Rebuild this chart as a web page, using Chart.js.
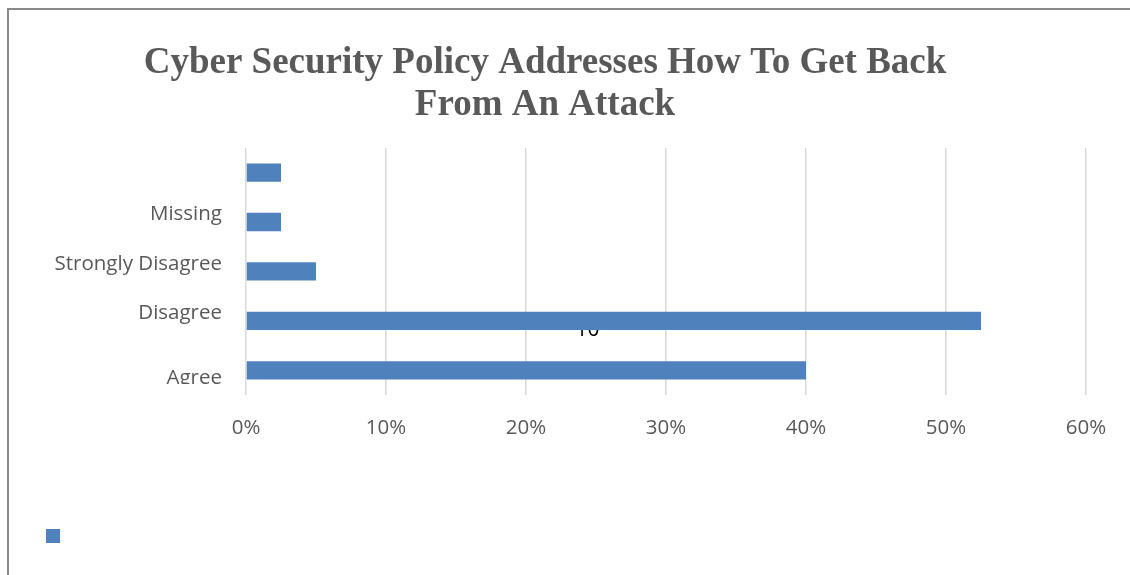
<!DOCTYPE html>
<html>
<head>
<meta charset="utf-8">
<script src="https://cdn.jsdelivr.net/npm/chart.js@4.4.1/dist/chart.umd.min.js"></script>
<style>
  html, body { margin: 0; padding: 0; background: #fff; overflow: hidden; }
  #wrap { position: relative; width: 1130px; height: 575px; }
  #frame { position: absolute; left: 7px; top: 8px; right: -10px; bottom: -10px; border: 2px solid #8a8a8a; }
  canvas { position: absolute; left: 0; top: 0; }
</style>
</head>
<body>
<div id="wrap">
  <div id="frame"></div>
  <canvas id="chart" width="1130" height="575"></canvas>
</div>
<script>
// categories top to bottom, values in percent
const categories = ['', 'Missing', 'Strongly Disagree', 'Disagree', 'Agree'];
const values = [2.5, 2.5, 5, 52.5, 40];
const xTicks = [0, 10, 20, 30, 40, 50, 60];
const titleLines = ['Cyber Security Policy Addresses How To Get Back', 'From An Attack'];
const strayText = '10';

const gray = '#595959';
const barBlue = '#4f81bd';

// stray "10" sitting under the Disagree bar, and the clipped bottom label
const extras = {
  id: 'extras',
  beforeDatasetsDraw(chart) {
    const { ctx, scales } = chart;
    ctx.save();
    ctx.font = '21px "Open Sans"';
    ctx.fillStyle = '#000';
    ctx.textAlign = 'center';
    ctx.textBaseline = 'alphabetic';
    ctx.fillText(strayText, scales.x.getPixelForValue(24.4), scales.y.getPixelForValue(3) + 15);
    ctx.restore();
  },
  afterDraw(chart) {
    const { ctx, chartArea } = chart;
    ctx.save();
    ctx.fillStyle = '#fff';
    ctx.fillRect(chartArea.left - 236, chartArea.bottom - 11, 230, 11);
    ctx.restore();
  }
};

new Chart(document.getElementById('chart'), {
  type: 'bar',
  data: {
    labels: categories,
    datasets: [{
      label: '',
      data: values,
      backgroundColor: barBlue,
      borderWidth: 0,
      barPercentage: 0.37,
      categoryPercentage: 1
    }]
  },
  options: {
    indexAxis: 'y',
    responsive: false,
    animation: false,
    layout: { padding: { left: 4, right: 44, top: 0, bottom: 22 } },
    plugins: {
      title: {
        display: true,
        text: titleLines,
        color: gray,
        font: { family: '"Liberation Serif", "Times New Roman", serif', size: 37, weight: 'bold', lineHeight: 1.12 },
        padding: { top: 43, bottom: 22 }
      },
      legend: {
        display: true,
        position: 'bottom',
        align: 'start',
        labels: { boxWidth: 14, boxHeight: 14, padding: 42, font: { size: 14 }, color: gray }
      },
      tooltip: { enabled: false }
    },
    scales: {
      x: {
        min: 0,
        max: 60,
        afterBuildTicks: s => { s.ticks = xTicks.map(v => ({ value: v })); },
        afterFit: s => { s.height = 92; },
        grid: { color: '#d9d9d9', lineWidth: 1.5, drawTicks: false },
        border: { display: false },
        ticks: {
          padding: 21,
          maxRotation: 0,
          color: gray,
          font: { family: '"Open Sans"', size: 20.5 },
          callback: v => v + '%'
        }
      },
      y: {
        afterFit: s => { s.width = 242; },
        grid: { display: false },
        border: { display: false },
        ticks: {
          padding: 16,
          autoSkip: false,
          color: gray,
          font: { family: '"Open Sans"', size: 20.5, lineHeight: 0.73 },
          callback: (v, i) => i === categories.length - 1 ? ['', categories[i]] : [categories[i], '']
        }
      }
    }
  },
  plugins: [extras]
});
</script>
</body>
</html>
